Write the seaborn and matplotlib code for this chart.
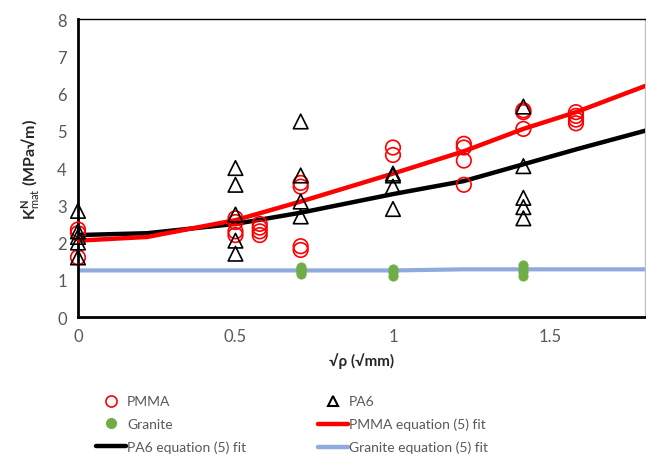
import numpy as np
import pandas as pd
import matplotlib
matplotlib.use("Agg")
import matplotlib.pyplot as plt
import seaborn as sns
from matplotlib.lines import Line2D

sns.set_style("white")
plt.rcParams['font.family'] = ['Lato', 'DejaVu Sans']
plt.rcParams['mathtext.fontset'] = 'custom'
plt.rcParams['mathtext.rm'] = 'Lato'
plt.rcParams['mathtext.bf'] = 'Lato:bold'

# sqrt(rho) positions used in the tests
x_pmma = [0, 0, 0,
          0.5, 0.5, 0.5, 0.5,
          0.577, 0.577, 0.577, 0.577,
          0.707, 0.707, 0.707, 0.707,
          1.0, 1.0,
          1.225, 1.225, 1.225, 1.225,
          1.414, 1.414, 1.414,
          1.581, 1.581, 1.581, 1.581]
k_pmma = [2.35, 2.25, 1.6,
          2.65, 2.55, 2.3, 2.2,
          2.5, 2.4, 2.3, 2.2,
          3.6, 3.5, 1.9, 1.8,
          4.55, 4.35,
          4.65, 4.55, 4.2, 3.55,
          5.55, 5.5, 5.05,
          5.5, 5.4, 5.3, 5.2]

x_pa6 = [0, 0, 0, 0, 0,
         0.5, 0.5, 0.5, 0.5, 0.5,
         0.707, 0.707, 0.707, 0.707,
         1.0, 1.0, 1.0, 1.0,
         1.414, 1.414, 1.414, 1.414, 1.414]
k_pa6 = [2.85, 2.3, 2.15, 2.0, 1.6,
         4.0, 3.55, 2.75, 2.05, 1.7,
         5.25, 3.8, 3.1, 2.7,
         3.85, 3.8, 3.5, 2.9,
         5.65, 4.05, 3.2, 2.95, 2.65]

x_gran = [0.707, 0.707, 0.707, 0.707, 0.707,
          1.0, 1.0, 1.0,
          1.414, 1.414, 1.414, 1.414]
k_gran = [1.35, 1.3, 1.25, 1.2, 1.15,
          1.3, 1.2, 1.1,
          1.4, 1.3, 1.2, 1.1]

# equation (5) fits
x_fit = [0, 0.22, 0.5, 0.707, 1.0, 1.225, 1.414, 1.581, 1.8]
fit_pmma = [2.05, 2.15, 2.6, 3.1, 3.85, 4.45, 5.05, 5.5, 6.2]
fit_pa6 = [2.2, 2.25, 2.5, 2.8, 3.3, 3.65, 4.1, 4.5, 5.0]
fit_gran = [1.25, 1.25, 1.25, 1.25, 1.25, 1.28, 1.28, 1.28, 1.28]

fig = plt.figure(figsize=(6.46, 4.56), dpi=100)
ax = fig.add_axes([0.1207, 0.3026, 0.8777, 0.6535])

fits = pd.DataFrame({"x": x_fit, "pmma": fit_pmma, "pa6": fit_pa6, "gran": fit_gran})
sns.lineplot(data=fits, x="x", y="gran", ax=ax, color="#8FAADC", lw=3, estimator=None, zorder=2)
sns.lineplot(data=fits, x="x", y="pa6", ax=ax, color="black", lw=3.2, estimator=None, zorder=3)
sns.lineplot(data=fits, x="x", y="pmma", ax=ax, color="#FF0000", lw=3.2, estimator=None, zorder=4)

sns.scatterplot(x=x_gran, y=k_gran, ax=ax, color="#70AD47", s=45, edgecolor="#70AD47", zorder=5)
sns.scatterplot(x=x_pmma, y=k_pmma, ax=ax, marker="o", s=110, facecolor="none",
                edgecolor="#FF0000", linewidth=1.2, zorder=6, clip_on=False)
sns.scatterplot(x=x_pa6, y=k_pa6, ax=ax, marker="^", s=110, facecolor="none",
                edgecolor="black", linewidth=1.2, zorder=7, clip_on=False)

ax.set_xlim(0, 1.8)
ax.set_ylim(0, 8)
ax.set_xticks([0, 0.5, 1, 1.5])
ax.set_xticklabels(["0", "0.5", "1", "1.5"])
ax.set_yticks(range(0, 9))
ax.tick_params(length=0, labelsize=12, labelcolor="#595959", pad=8)

for s in ["left", "bottom"]:
    ax.spines[s].set_color("black")
    ax.spines[s].set_linewidth(2)
ax.spines["top"].set_color("black")
ax.spines["top"].set_linewidth(1)
ax.spines["right"].set_color("#BFBFBF")
ax.spines["right"].set_linewidth(1)

ax.set_xlabel("√ρ (√mm)", fontsize=11, fontweight="bold", labelpad=6)
ax.set_ylabel(r"K$^{\mathbf{N}}_{\mathrm{mat}}$ (MPa√m)", fontsize=11.5, fontweight="bold", labelpad=10)

h_pmma = Line2D([], [], ls="none", marker="o", mfc="none", mec="#FF0000", ms=8, mew=1.2)
h_pa6 = Line2D([], [], ls="none", marker="^", mfc="none", mec="black", ms=7, mew=1.5)
h_gran = Line2D([], [], ls="none", marker="o", mfc="#70AD47", mec="#70AD47", ms=7)
h_fp = Line2D([], [], color="#FF0000", lw=3.2)
h_fa = Line2D([], [], color="black", lw=3.2)
h_fg = Line2D([], [], color="#8FAADC", lw=3.2)

leg = fig.legend([h_pmma, h_gran, h_fa, h_pa6, h_fp, h_fg],
                 ["PMMA", "Granite", "PA6 equation (5) fit",
                  "PA6", "PMMA equation (5) fit", "Granite equation (5) fit"],
                 ncol=2, frameon=False, loc="upper left", bbox_to_anchor=(0.13, 0.158),
                 fontsize=10, labelcolor="#595959", handlelength=2.1,
                 columnspacing=5.2, labelspacing=0.75, handletextpad=0.1)

fig.savefig("out.png", dpi=100)
